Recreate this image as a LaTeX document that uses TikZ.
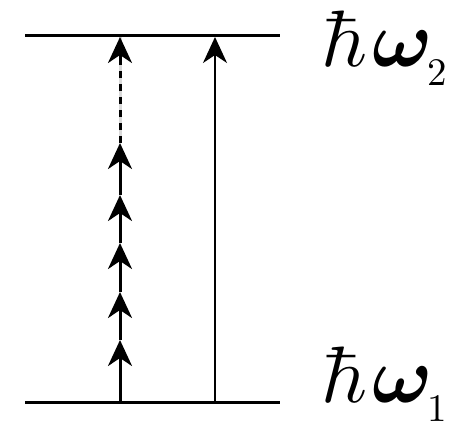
\documentclass[tikz,border=0pt]{standalone}
\usepackage{bm}
\usetikzlibrary{arrows.meta}
\tikzset{
  level/.style={line width=3pt},
  head/.style={-{Stealth[length=26pt,width=24pt,inset=8pt]}},
  lbl/.style={inner sep=0pt,anchor=base west,scale=8.0},
  sub/.style={inner sep=0pt,anchor=base west,scale=3.9}
}
\begin{document}
\begin{tikzpicture}[x=1pt,y=-1pt]
\useasboundingbox (0,0) rectangle (454,429);
% levels
\coordinate (tl) at (25,35); \coordinate (tr) at (280,35);
\coordinate (bl) at (25,402); \coordinate (br) at (280,402);
\draw[level] (tl) -- (tr);
\draw[level] (bl) -- (br);
% left multi-photon arrow
\coordinate (a0) at (120,402);
\coordinate (a1) at (120,340);
\coordinate (a2) at (120,292);
\coordinate (a3) at (120,243);
\coordinate (a4) at (120,195);
\coordinate (a5) at (120,143);
\coordinate (a6) at (120,37);
\coordinate (a7) at (120,62);
\draw[line width=3pt,head] (a0) -- (a1);
\draw[line width=3pt,head] (a1) -- (a2);
\draw[line width=3pt,head] (a2) -- (a3);
\draw[line width=3pt,head] (a3) -- (a4);
\draw[line width=3pt,head] (a4) -- (a5);
\draw[line width=3pt,gray!30] (a5) -- (a6);
\draw[line width=3pt,dash pattern=on 7pt off 6pt] (a5) -- (a7);
\draw[line width=3pt,head] (a7) -- (a6);
% right single photon arrow
\coordinate (b0) at (215,402);
\coordinate (b1) at (215,37);
\draw[line width=2.2pt,head] (b0) -- (b1);
% labels
\node[lbl] (h2) at (320,66) {$\hbar\mkern1mu\bm{\omega}$};
\node[sub] (s2) at (427,85) {2};
\node[lbl] (h1) at (320,402) {$\hbar\mkern1mu\bm{\omega}$};
\node[sub] (s1) at (427,421) {1};
\end{tikzpicture}
\end{document}
